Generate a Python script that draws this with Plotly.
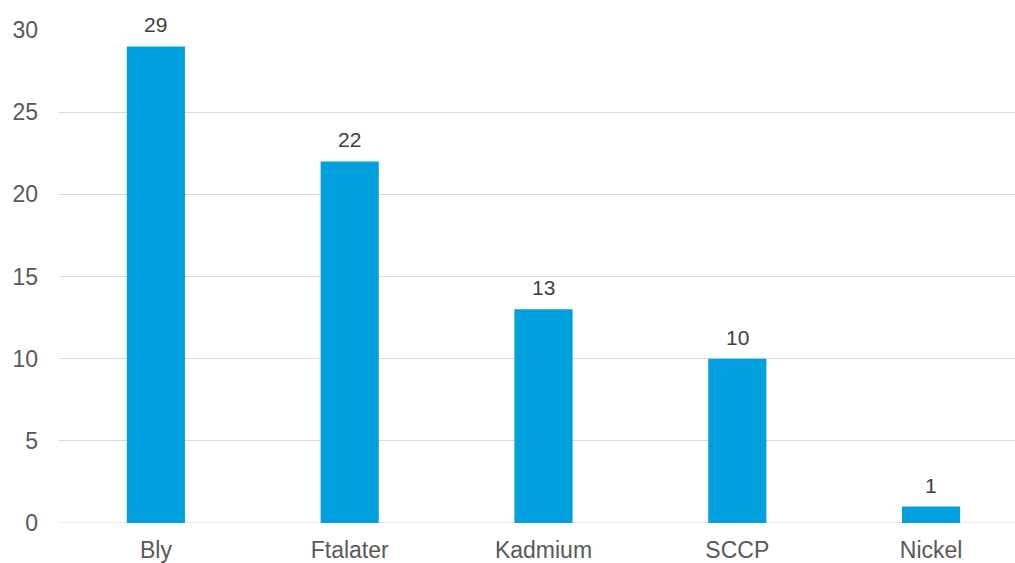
import plotly.graph_objects as go

categories = ["Bly", "Ftalater", "Kadmium", "SCCP", "Nickel"]
values = [29, 22, 13, 10, 1]
y_ticks = [0, 5, 10, 15, 20, 25, 30]

fig = go.Figure()
fig.add_trace(go.Bar(
    x=categories, y=values,
    marker=dict(color="#00A0DF", line=dict(width=0)),
    width=0.3,
    cliponaxis=False,
))

for c, v in zip(categories, values):
    fig.add_annotation(x=c, y=v, text=str(v), showarrow=False,
                       yanchor="bottom", yshift=8,
                       font=dict(family="Liberation Sans, Arial", size=21, color="#404040"))

fig.update_layout(
    width=1015, height=563,
    margin=dict(l=59, r=0, t=30, b=40),
    paper_bgcolor="white", plot_bgcolor="white",
    showlegend=False,
    font=dict(family="Liberation Sans, Arial", color="#595959"),
    xaxis=dict(range=[-0.5, 4.433], showgrid=False, zeroline=False,
               showline=False, ticks="", tickfont=dict(size=23, color="#595959"),
               ticklabelstandoff=11, automargin=False, fixedrange=True),
    yaxis=dict(range=[0, 30], tickvals=y_ticks, showgrid=True, gridcolor="#D9D9D9",
               gridwidth=1, zeroline=False, showline=False, ticks="",
               tickfont=dict(size=23, color="#595959"), ticklabelstandoff=20,
               automargin=False, fixedrange=True),
)
fig.add_shape(type="line", xref="paper", yref="y", x0=0, x1=1, y0=0, y1=0,
              line=dict(color="#D9D9D9", width=1), layer="below")

fig.write_html("out.html", config={"displayModeBar": False, "staticPlot": True},
               post_script="document.body.style.margin='0';document.body.style.overflow='hidden';")
